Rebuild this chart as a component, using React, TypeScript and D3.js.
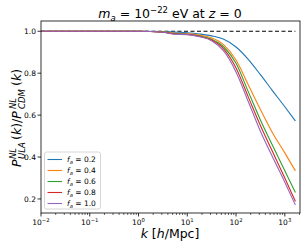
import React from "react";
import * as d3 from "d3";

const kValues = [0.01, 0.1, 1, 3.16, 5.62, 10, 17.8, 31.6, 56.2, 100, 178, 316, 562, 1000, 1650];
const fractions = ["0.2", "0.4", "0.6", "0.8", "1.0"];
const ratios = [
  [1, 1, 1, 0.999, 0.996, 0.993, 0.987, 0.978, 0.962, 0.925, 0.866, 0.793, 0.716, 0.64, 0.572],
  [1, 1, 1, 0.997, 0.99, 0.988, 0.982, 0.968, 0.935, 0.863, 0.745, 0.627, 0.515, 0.42, 0.334],
  [1, 1, 1, 0.996, 0.988, 0.986, 0.978, 0.962, 0.925, 0.847, 0.712, 0.577, 0.455, 0.335, 0.231],
  [1, 1, 1, 0.995, 0.987, 0.985, 0.976, 0.958, 0.915, 0.825, 0.687, 0.55, 0.425, 0.3, 0.188],
  [1, 1, 1, 0.995, 0.986, 0.984, 0.974, 0.955, 0.905, 0.806, 0.665, 0.523, 0.4, 0.28, 0.171],
];
const colors = ["#1f77b4", "#ff7f0e", "#2ca02c", "#d62728", "#9467bd"];
const xTickExps = [-2, -1, 0, 1, 2, 3];
const yTicks = [0.2, 0.4, 0.6, 0.8, 1.0];

const W = 305, H = 248;
const left = 41, right = 300, top = 21, bottom = 213;
const font = "DejaVu Sans";

export default function App() {
  const x = d3.scaleLog().domain([0.01, 2050]).range([left, right]);
  const y = d3.scaleLinear().domain([0.133, 1.049]).range([bottom, top]);
  const line = d3
    .line<number>()
    .x((_, i) => x(kValues[i]))
    .y((d) => y(d))
    .curve(d3.curveMonotoneX);

  const minor: number[] = [];
  xTickExps.forEach((e) => {
    for (let m = 2; m <= 9; m++) {
      const v = m * Math.pow(10, e);
      if (v < 2050) minor.push(v);
    }
  });

  return (
    <svg width={W} height={H} style={{ position: "absolute", left: 0, top: 0 }} fontFamily={font}>
      <rect width={W} height={H} fill="#fff" />
      <defs>
        <clipPath id="plot">
          <rect x={left} y={top} width={right - left} height={bottom - top} />
        </clipPath>
      </defs>

      {/* reference line */}
      <line x1={x(0.01)} x2={x(1650)} y1={y(1)} y2={y(1)} stroke="#000" strokeWidth={1.1} strokeDasharray="4,2.5" />

      <g clipPath="url(#plot)">
        {ratios.map((r, i) => (
          <path key={i} d={line(r) || ""} fill="none" stroke={colors[i]} strokeWidth={1.1} />
        ))}
      </g>

      {/* axes frame */}
      <rect x={left} y={top} width={right - left} height={bottom - top} fill="none" stroke="#000" strokeWidth={0.8} />

      {/* x ticks */}
      {xTickExps.map((e) => {
        const px = x(Math.pow(10, e));
        return (
          <g key={e}>
            <line x1={px} x2={px} y1={bottom} y2={bottom + 3.5} stroke="#000" strokeWidth={0.8} />
            <text x={px} y={bottom + 12} fontSize={7.5} textAnchor="middle" fill="#000">
              10
              <tspan dy={-3.5} fontSize={5.3}>{e < 0 ? "\u2212" + -e : String(e)}</tspan>
            </text>
          </g>
        );
      })}
      {minor.map((v, i) => (
        <line key={i} x1={x(v)} x2={x(v)} y1={bottom} y2={bottom + 2} stroke="#000" strokeWidth={0.6} />
      ))}

      {/* y ticks */}
      {yTicks.map((t) => (
        <g key={t}>
          <line x1={left - 3.5} x2={left} y1={y(t)} y2={y(t)} stroke="#000" strokeWidth={0.8} />
          <text x={left - 5} y={y(t) + 2.7} fontSize={7.5} textAnchor="end" fill="#000">
            {t.toFixed(1)}
          </text>
        </g>
      ))}

      {/* title */}
      <text x={170} y={18} fontSize={12.5} textAnchor="middle" fill="#000">
        <tspan fontStyle="italic">m</tspan>
        <tspan fontSize={8.5} dy={2.5} fontStyle="italic">a</tspan>
        <tspan dy={-2.5}> = 10</tspan>
        <tspan fontSize={8.5} dy={-5}>{"\u221222"}</tspan>
        <tspan dy={5}> eV at </tspan>
        <tspan fontStyle="italic">z</tspan>
        <tspan> = 0</tspan>
      </text>

      {/* x label */}
      <text x={170} y={238} fontSize={12.5} textAnchor="middle" fill="#000">
        <tspan fontStyle="italic">k</tspan> [<tspan fontStyle="italic">h</tspan>/Mpc]
      </text>

      {/* y label */}
      <g transform="translate(21,167) rotate(-90)" fill="#000" fontSize={12.5}>
        <text x={0} y={0} fontStyle="italic">P</text>
        <text x={8} y={-5} fontSize={8.5} fontStyle="italic">NL</text>
        <text x={8} y={3.5} fontSize={8.5} fontStyle="italic">ULA</text>
        <text x={27} y={0}>
          (<tspan fontStyle="italic">k</tspan>)/<tspan fontStyle="italic">P</tspan>
        </text>
        <text x={58} y={-5} fontSize={8.5} fontStyle="italic">NL</text>
        <text x={58} y={3.5} fontSize={8.5} fontStyle="italic">CDM</text>
        <text x={81} y={0}>
          (<tspan fontStyle="italic">k</tspan>)
        </text>
      </g>

      {/* legend */}
      <rect x={44.5} y={152} width={56} height={57} rx={2} fill="#fff" fillOpacity={0.8} stroke="#ccc" strokeWidth={0.8} />
      {fractions.map((f, i) => {
        const ly = 159.5 + i * 11;
        return (
          <g key={f}>
            <line x1={47.5} x2={62} y1={ly} y2={ly} stroke={colors[i]} strokeWidth={1.1} />
            <text x={67} y={ly + 2.7} fontSize={7.5} fill="#000">
              <tspan fontStyle="italic">f</tspan>
              <tspan fontSize={5.3} dy={1.8} fontStyle="italic">a</tspan>
              <tspan dy={-1.8}> = {f}</tspan>
            </text>
          </g>
        );
      })}
    </svg>
  );
}
